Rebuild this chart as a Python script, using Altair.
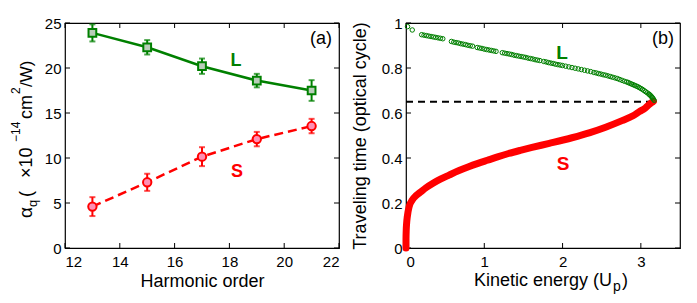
import altair as alt
import pandas as pd

# ---------------- data ----------------
harm = [13, 15, 17, 19, 21]
alpha_L = [23.9, 22.3, 20.2, 18.6, 17.5]
err_L = [0.95, 0.8, 0.85, 0.75, 1.15]
alpha_S = [4.6, 7.3, 10.15, 12.1, 13.55]
err_S = [1.05, 0.95, 1.05, 0.8, 0.8]

L_energy = [0.02, 0.08,
            0.20, 0.23, 0.26, 0.29, 0.32, 0.35, 0.38, 0.41, 0.44, 0.47,
            0.58, 0.61, 0.64, 0.67, 0.70, 0.73, 0.76, 0.79, 0.82, 0.85,
            0.91, 0.94, 0.97, 1.00, 1.03, 1.06, 1.09, 1.12, 1.15,
            1.23, 1.26, 1.29, 1.32, 1.35, 1.38, 1.41, 1.44, 1.47,
            1.50, 1.53, 1.56, 1.59, 1.62, 1.65, 1.68, 1.71,
            1.76, 1.79, 1.82, 1.85, 1.88, 1.91, 1.94, 1.97,
            2.00, 2.04, 2.08, 2.12, 2.16, 2.20, 2.24, 2.28, 2.32, 2.36,
            2.40, 2.43, 2.46, 2.49, 2.52, 2.55, 2.58, 2.61, 2.64, 2.67,
            2.70, 2.73, 2.76, 2.79, 2.82, 2.84, 2.86, 2.88, 2.90, 2.92,
            2.94, 2.96, 2.98, 3.00, 3.02, 3.04, 3.06, 3.08, 3.10, 3.11,
            3.12, 3.13, 3.14, 3.15, 3.16, 3.17]
L_time = [0.984, 0.969,
          0.948, 0.946, 0.944, 0.942, 0.940, 0.938, 0.936, 0.934, 0.932, 0.930,
          0.918, 0.915, 0.913, 0.911, 0.908, 0.906, 0.904, 0.901, 0.899, 0.897,
          0.891, 0.889, 0.887, 0.884, 0.882, 0.880, 0.878, 0.876, 0.874,
          0.868, 0.866, 0.864, 0.862, 0.860, 0.857, 0.855, 0.853, 0.851,
          0.849, 0.847, 0.844, 0.842, 0.840, 0.837, 0.835, 0.833,
          0.829, 0.827, 0.824, 0.822, 0.820, 0.817, 0.815, 0.813,
          0.811, 0.808, 0.805, 0.802, 0.799, 0.796, 0.793, 0.790, 0.787, 0.784,
          0.780, 0.778, 0.775, 0.773, 0.770, 0.768, 0.765, 0.762, 0.759, 0.756,
          0.753, 0.749, 0.745, 0.741, 0.738, 0.735, 0.732, 0.729, 0.726, 0.723,
          0.720, 0.717, 0.713, 0.709, 0.705, 0.700, 0.695, 0.690, 0.685, 0.682,
          0.679, 0.675, 0.671, 0.667, 0.662, 0.656]

S_energy = [0.0, 0.0, 0.003, 0.008, 0.017, 0.04, 0.08, 0.13, 0.19, 0.26, 0.34, 0.44,
            0.55, 0.67, 0.80, 0.92, 1.04, 1.17, 1.31, 1.46, 1.61, 1.83, 2.12, 2.35,
            2.55, 2.76, 2.90, 2.98, 3.06, 3.10, 3.14, 3.16]
S_time = [0.0, 0.04, 0.08, 0.11, 0.14, 0.184, 0.213, 0.233, 0.25, 0.269, 0.287, 0.306,
          0.324, 0.343, 0.361, 0.376, 0.39, 0.405, 0.42, 0.434, 0.447, 0.465, 0.49, 0.513,
          0.537, 0.566, 0.588, 0.606, 0.623, 0.636, 0.647, 0.652]

cutoff_time = 0.65
cutoff_energy = 3.12

a_xticks = [12, 14, 16, 18, 20, 22]
a_yticks = [0, 5, 10, 15, 20, 25]
b_xticks = [0, 1, 2, 3]
b_yticks = [0, 0.2, 0.4, 0.6, 0.8, 1]

# ---------------- style ----------------
W, H = 274, 225
FONT = "Liberation Sans"
GREEN = "#008000"
RED = "#ff0000"
TICK = 5

def one():
    return alt.Data(values=[{"a": 1}])

def txt(s, x, y, size=18, angle=0, align="left", color="black", weight="normal",
        baseline="alphabetic"):
    return alt.Chart(one()).mark_text(
        text=s, font=FONT, fontSize=size, angle=angle, align=align,
        baseline=baseline, color=color, fontWeight=weight
    ).encode(x=alt.value(x), y=alt.value(y))

def ax(field, d):
    return dict(field=field, type="quantitative", **d)

# ---------------- panel (a) ----------------
ax_a_x = dict(scale=alt.Scale(domain=[12, 22], nice=False, zero=False),
              axis=alt.Axis(values=a_xticks, title="Harmonic order", labelPadding=6,
                            titlePadding=3))
ax_a_y = dict(scale=alt.Scale(domain=[0, 25], nice=False),
              axis=alt.Axis(values=a_yticks, title="", labelPadding=4))

dfL = pd.DataFrame({"h": harm, "v": alpha_L, "e": err_L})
dfS = pd.DataFrame({"h": harm, "v": alpha_S, "e": err_S})
for d in (dfL, dfS):
    d["lo"] = d["v"] - d["e"]
    d["hi"] = d["v"] + d["e"]

def series_layers(df, color, shape, fill, dash):
    base = alt.Chart(df)
    line_kw = dict(color=color, strokeWidth=2.5)
    if dash:
        line_kw["strokeDash"] = dash
    line = base.mark_line(**line_kw).encode(
        x=alt.X(**ax("h", ax_a_x)), y=alt.Y(**ax("v", ax_a_y)))
    bar = base.mark_rule(color=color, strokeWidth=2).encode(
        x=alt.X(**ax("h", ax_a_x)), y=alt.Y(**ax("lo", ax_a_y)), y2="hi")
    caps = base.transform_fold(["lo", "hi"], as_=["k", "cv"]).mark_tick(
        orient="horizontal", size=6, thickness=2, color=color).encode(
        x=alt.X(**ax("h", ax_a_x)), y=alt.Y(**ax("cv", ax_a_y)))
    pts = base.mark_point(shape=shape, filled=True, fill=fill, stroke=color,
                          strokeWidth=2, size=60 if shape == "square" else 70,
                          opacity=1).encode(
        x=alt.X(**ax("h", ax_a_x)), y=alt.Y(**ax("v", ax_a_y)))
    return [line, bar, caps, pts]

def inner_ticks(xt, yt, axx, axy):
    dx = pd.DataFrame({"tk": xt})
    dy = pd.DataFrame({"tk": yt})
    r = dict(color="black", strokeWidth=1)
    return [
        alt.Chart(dx).mark_rule(**r).encode(x=alt.X(**ax("tk", axx)), y=alt.value(H), y2=alt.value(H - TICK)),
        alt.Chart(dx).mark_rule(**r).encode(x=alt.X(**ax("tk", axx)), y=alt.value(0), y2=alt.value(TICK)),
        alt.Chart(dy).mark_rule(**r).encode(y=alt.Y(**ax("tk", axy)), x=alt.value(0), x2=alt.value(TICK)),
        alt.Chart(dy).mark_rule(**r).encode(y=alt.Y(**ax("tk", axy)), x=alt.value(W), x2=alt.value(W - TICK)),
    ]

a_layers = (inner_ticks(a_xticks, a_yticks, ax_a_x, ax_a_y)
            + series_layers(dfL, GREEN, "square", "#b9cdb9", None)
            + series_layers(dfS, RED, "circle", "#ff8fb4", [9, 5])
            + [
                txt("L", 171, 38, 18, align="center", color=GREEN, weight="bold", baseline="middle"),
                txt("S", 172, 149, 18, align="center", color=RED, weight="bold", baseline="middle"),
                txt("(a)", 267, 16, 18, align="right", baseline="middle"),
                # y-axis title: alpha_q ( x10^-14 cm^2/W )
                txt("α", -33, 195, 19, angle=270),
                txt("q", -28, 184, 13, angle=270),
                txt("(", -33, 174, 18, angle=270),
                txt("×10", -33, 155, 18, angle=270),
                txt("−14", -45, 119, 12, angle=270),
                txt("cm", -33, 96, 18, angle=270),
                txt("2", -45, 71, 12, angle=270),
                txt("/W)", -33, 64, 17, angle=270),
            ])
panel_a = alt.layer(*a_layers).properties(width=W, height=H)

# ---------------- panel (b) ----------------
ax_b_x = dict(scale=alt.Scale(domain=[0, 3.5], nice=False),
              axis=alt.Axis(values=b_xticks, title="", labelPadding=6, format="~g"))
ax_b_y = dict(scale=alt.Scale(domain=[0, 1], nice=False),
              axis=alt.Axis(values=b_yticks, title="Traveling time (optical cycle)",
                            labelPadding=4, titlePadding=12, format="~g"))

dfLb = pd.DataFrame({"E": L_energy, "t": L_time})
dfSb = pd.DataFrame({"E": S_energy, "t": S_time, "i": list(range(len(S_energy)))})
dfCut = pd.DataFrame({"E0": [0.0], "E1": [cutoff_energy], "t": [cutoff_time]})

cut = alt.Chart(dfCut).mark_rule(color="black", strokeWidth=2, strokeDash=[7, 5]).encode(
    x=alt.X(**ax("E0", ax_b_x)), x2="E1", y=alt.Y(**ax("t", ax_b_y)))
s_line = alt.Chart(dfSb).mark_line(color=RED, strokeWidth=7, strokeCap="round",
                                   strokeJoin="round", interpolate="monotone").encode(
    x=alt.X(**ax("E", ax_b_x)), y=alt.Y(**ax("t", ax_b_y)), order="i:Q")
l_pts = alt.Chart(dfLb).mark_point(shape="circle", filled=False, stroke=GREEN,
                                   strokeWidth=1, size=20, opacity=1).encode(
    x=alt.X(**ax("E", ax_b_x)), y=alt.Y(**ax("t", ax_b_y)))

b_layers = (inner_ticks(b_xticks, b_yticks, ax_b_x, ax_b_y)
            + [cut, s_line, l_pts,
               txt("L", 156, 30, 19, align="center", color=GREEN, weight="bold", baseline="middle"),
               txt("S", 157, 141, 19, align="center", color=RED, weight="bold", baseline="middle"),
               txt("(b)", 268, 16, 18, align="right", baseline="middle"),
               txt("Kinetic energy (U", 206, 263, 18, align="right"),
               txt("p", 207, 268, 14, align="left"),
               txt(")", 216, 263, 18, align="left"),
               ])
panel_b = alt.layer(*b_layers).properties(width=W, height=H)

chart = alt.hconcat(panel_a, panel_b, spacing=67, bounds="flush").properties(
    padding={"left": 1, "top": 7, "right": 5, "bottom": 5}
).configure_view(stroke="black", strokeWidth=1.2).configure_axis(
    labelFont=FONT, titleFont=FONT, labelFontSize=15, titleFontSize=18,
    titleFontWeight="normal", labelColor="black", titleColor="black",
    grid=False, ticks=False, domain=False
)

chart.save("out.html", embed_options={"renderer": "svg", "actions": False})
